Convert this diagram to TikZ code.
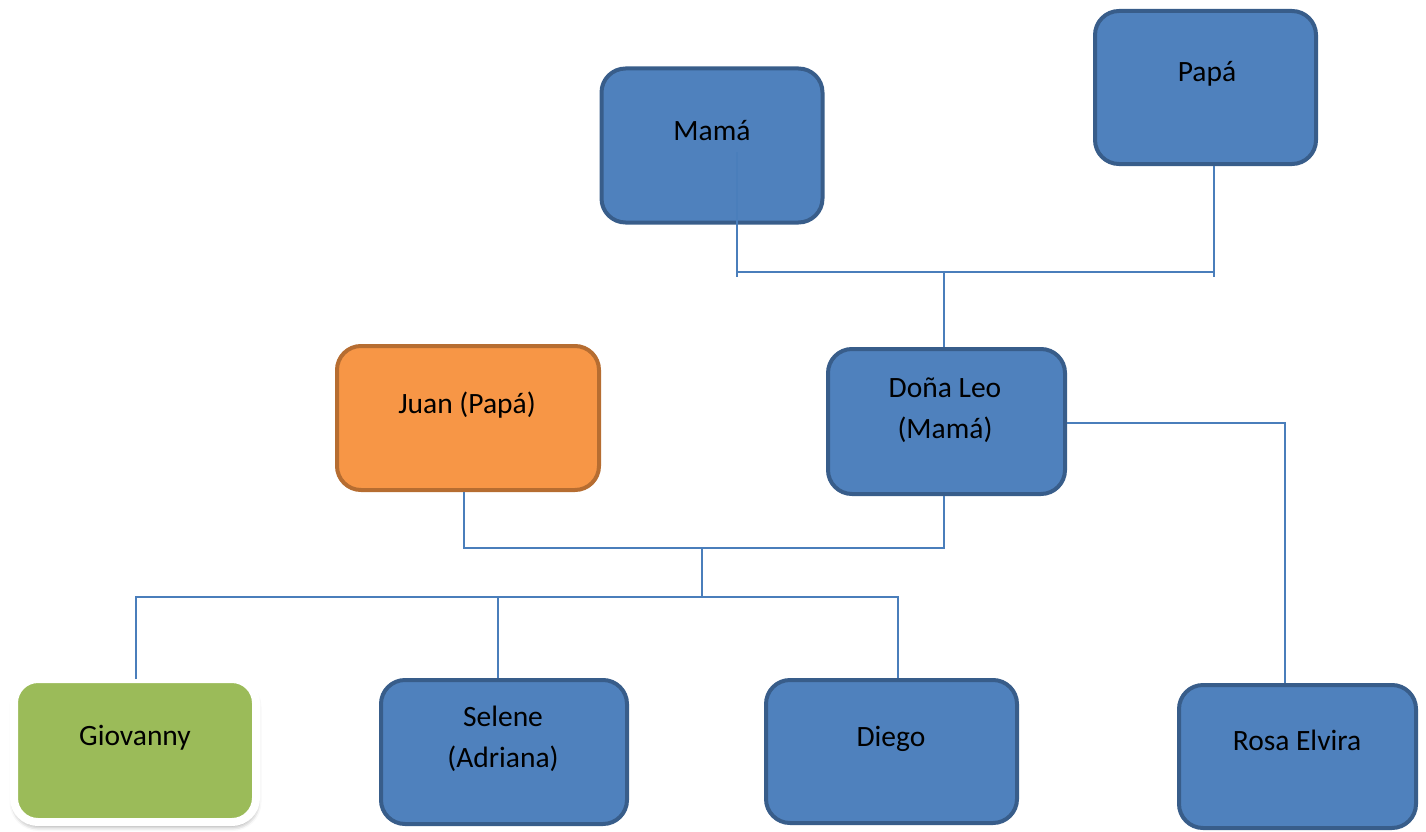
\documentclass[tikz,border=0pt]{standalone}
\usepackage{fontspec}
\setmainfont{Carlito}
\usetikzlibrary{shadows,shadows.blur}
\definecolor{bfill}{HTML}{4F81BD}
\definecolor{bdraw}{HTML}{385D8A}
\definecolor{ofill}{HTML}{F79646}
\definecolor{odraw}{HTML}{B66D31}
\definecolor{gfill}{HTML}{9BBB59}
\definecolor{lnk}{HTML}{4A7EBB}
\tikzset{
  box/.style={rectangle, rounded corners=24pt, line width=4pt, inner sep=0pt},
  bluebox/.style={box, fill=bfill, draw=bdraw},
  orangebox/.style={box, fill=ofill, draw=odraw},
  greenbox/.style={box, fill=gfill, draw=white, line width=8pt,
     blur shadow={shadow xshift=0.5pt, shadow yshift=-4pt, shadow blur radius=5pt, shadow opacity=45}},
  lbl/.style={inner sep=0pt, font=\fontsize{29.5}{41}\selectfont, align=center},
  link/.style={draw=lnk, line width=2.5pt}
}
\begin{document}
\begin{tikzpicture}[x=1pt,y=-1pt]
\useasboundingbox (0,0) rectangle (1426,832);
% boxes
\node[bluebox, minimum width=221pt, minimum height=154pt] (mama) at (712,145.5) {};
\node[bluebox, minimum width=221pt, minimum height=153pt] (papa) at (1205.5,87.5) {};
\node[bluebox, minimum width=237pt, minimum height=145pt] (dona) at (946.5,421.5) {};
\node[orangebox, minimum width=262pt, minimum height=144pt] (juan) at (468,418) {};
\node[greenbox, minimum width=242pt, minimum height=143pt] (gio) at (135,750.5) {};
\node[bluebox, minimum width=246pt, minimum height=144pt] (selene) at (504,752) {};
\node[bluebox, minimum width=251pt, minimum height=143pt] (diego) at (891.5,751.5) {};
\node[bluebox, minimum width=237pt, minimum height=143pt] (rosa) at (1297.5,756.5) {};
% labels
\node[lbl, anchor=base] (mamaT) at (712,140) {Mamá};
\node[lbl, anchor=base] (papaT) at (1207,82) {Papá};
\node[lbl] (donaT) at (945,410) {Doña Leo\\(Mamá)};
\node[lbl, anchor=base] (juanT) at (467,413) {Juan (Papá)};
\node[lbl, anchor=base] (gioT) at (135,745) {Giovanny};
\node[lbl] (seleneT) at (503,739) {Selene\\(Adriana)};
\node[lbl, anchor=base] (diegoT) at (891,746) {Diego};
\node[lbl, anchor=base] (rosaT) at (1297,750) {Rosa Elvira};
% junction coordinates
\coordinate (m1) at (737,152);
\coordinate (m2) at (737,277);
\coordinate (mL) at (737,272);
\coordinate (pR) at (1214,272);
\coordinate (p2) at (1214,277);
\coordinate (top) at (944,272);
\coordinate (jL) at (464,548);
\coordinate (jR) at (944,548);
\coordinate (jM) at (702,548);
\coordinate (kM) at (702,597);
\coordinate (kL) at (136,597);
\coordinate (kS) at (498,597);
\coordinate (kR) at (898,597);
\coordinate (rC) at (1285,423);
% connectors
\draw[link] (m1) -- (m2);
\draw[link] (mL) -- (pR);
\draw[link] (papa.south -| p2) -- (p2);
\draw[link] (top) -- (dona.north -| top);
\draw[link] (dona.east |- rC) -- (rC) -- (rosa.north -| rC);
\draw[link] (juan.south -| jL) -- (jL) -- (jR) -- (dona.south -| jR);
\draw[link] (jM) -- (kM);
\draw[link] ([yshift=-4pt]gio.north -| kL) -- (kL) -- (kR) -- (diego.north -| kR);
\draw[link] (kS) -- (selene.north -| kS);
\end{tikzpicture}
\end{document}
